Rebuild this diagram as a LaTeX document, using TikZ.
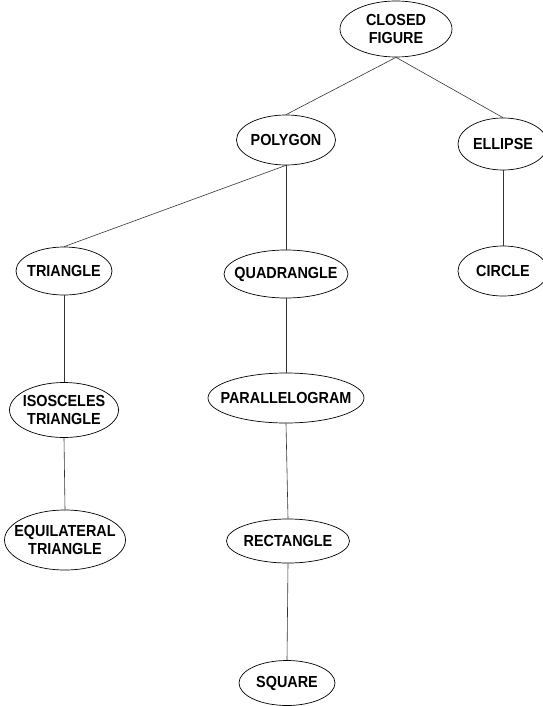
\documentclass[tikz,border=0pt]{standalone}
\usepackage{fontspec}
\setmainfont{Liberation Sans}
\newfontfamily\lblfont{Liberation Sans}[FakeStretch=0.9]
\usetikzlibrary{shapes.geometric}
\tikzset{
  elli/.style 2 args={ellipse, draw=black, line width=0.7pt, minimum width=#1, minimum height=#2, inner sep=0pt},
  lbl/.style={font=\lblfont\bfseries\fontsize{16}{17.5}\selectfont, align=center, inner sep=0pt},
  conn/.style={draw=black!80, line width=0.6pt}
}
\begin{document}
\begin{tikzpicture}[x=1pt, y=-1pt]
\useasboundingbox (0,0) rectangle (542,706);
\node[elli={112}{56}, label={[lbl]center:CLOSED\\FIGURE}] (cf) at (396,29) {};
\node[elli={99}{50}, label={[lbl]center:POLYGON}] (poly) at (286,140) {};
\node[elli={90}{52}, label={[lbl]center:ELLIPSE}] (ell) at (503,144) {};
\node[elli={90}{50}, label={[lbl]center:CIRCLE}] (circ) at (503,271) {};
\node[elli={96}{48}, label={[lbl]center:TRIANGLE}] (tri) at (64,271) {};
\node[elli={124}{48}, label={[lbl]center:QUADRANGLE}] (quad) at (286,274) {};
\node[elli={109}{55}, label={[lbl]center:ISOSCELES\\TRIANGLE}] (iso) at (64,410) {};
\node[elli={156}{50}, label={[lbl]center:PARALLELOGRAM}] (par) at (286,398) {};
\node[elli={121}{60}, label={[lbl]center:EQUILATERAL\\TRIANGLE}] (equi) at (65,540) {};
\node[elli={123}{44}, label={[lbl]center:RECTANGLE}] (rect) at (288,541) {};
\node[elli={96}{45}, label={[lbl]center:SQUARE}] (sq) at (287,683) {};
\draw[conn] (cf.south) -- (poly.north);
\draw[conn] (cf.south) -- (ell.north);
\draw[conn] (ell.south) -- (circ.north);
\draw[conn] (poly.south) -- (tri.north);
\draw[conn] (poly.south) -- (quad.north);
\draw[conn] (tri.south) -- (iso.north);
\draw[conn] (iso.south) -- (equi.north);
\draw[conn] (quad.south) -- (par.north);
\draw[conn] (par.south) -- (rect.north);
\draw[conn] (rect.south) -- (sq.north);
\end{tikzpicture}
\end{document}
